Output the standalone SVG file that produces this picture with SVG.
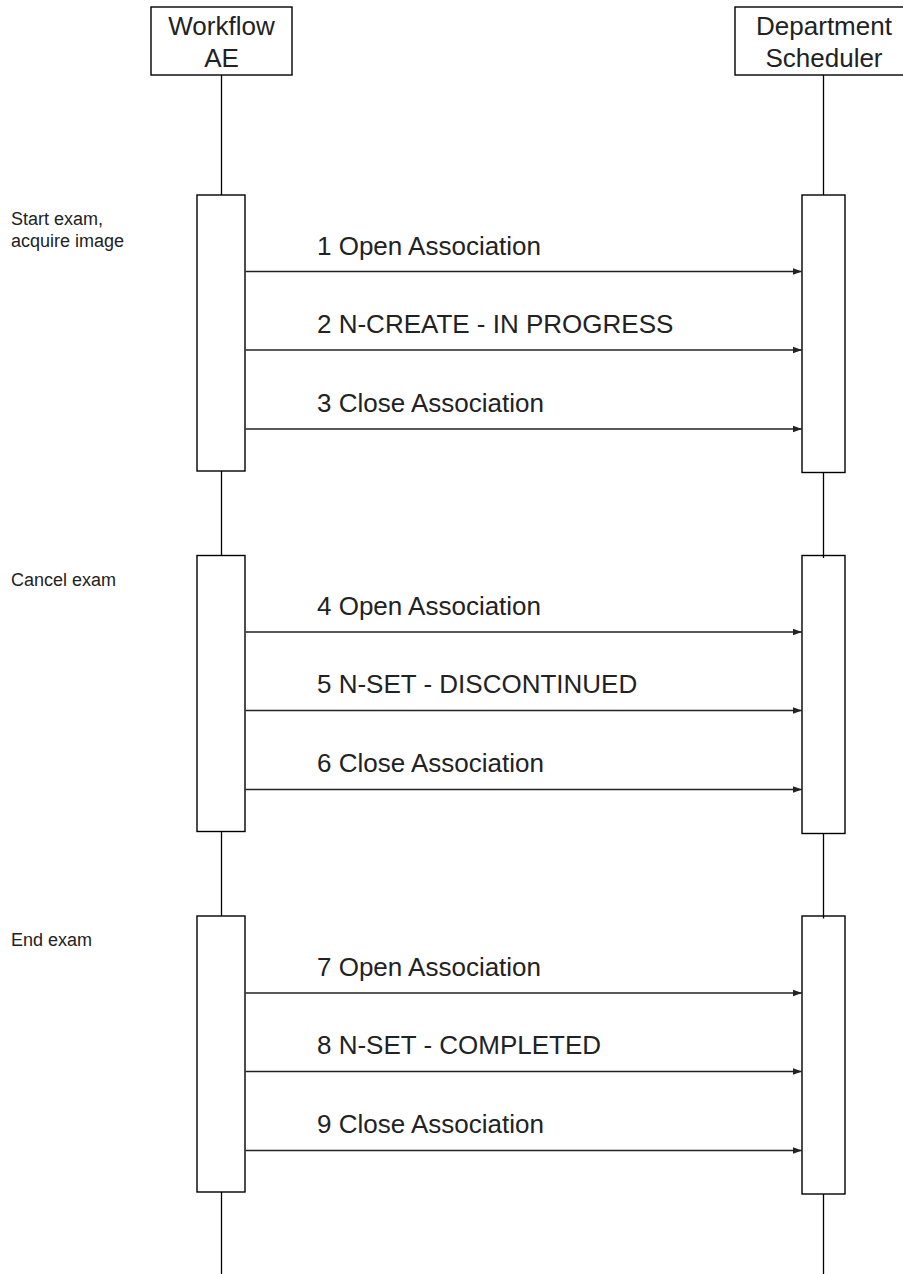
<svg xmlns="http://www.w3.org/2000/svg" width="903" height="1274" viewBox="0 0 903 1274">
<style>
.box{fill:#fff;stroke:#000;stroke-width:1.4}
.life{stroke:#000;stroke-width:1.3;fill:none}
.msg{stroke:#222;stroke-width:1.4;fill:none}
.t{font-family:"Liberation Sans",Arial,sans-serif;fill:#222}
.h{font-size:26px;text-anchor:middle}
.m{font-size:26px}
.n{font-size:18px}
</style>
<defs>
<marker id="arr" markerUnits="userSpaceOnUse" markerWidth="10" markerHeight="8" refX="9" refY="4" orient="auto">
<path d="M0,0.8 L9,4 L0,7.2 Z" fill="#222"/>
</marker>
</defs>
<rect width="903" height="1274" fill="#fff"/>
<g id="lifelines">
<line class="life" x1="221.5" y1="75" x2="221.5" y2="1274"/>
<line class="life" x1="823.5" y1="75" x2="823.5" y2="1274"/>
</g>
<g id="workflow-ae">
<rect class="box" x="151" y="7" width="141" height="68"/>
<text class="t h" x="221.5" y="35">Workflow</text>
<text class="t h" x="221.5" y="67">AE</text>
</g>
<g id="department-scheduler">
<rect class="box" x="735" y="7" width="178" height="68"/>
<text class="t h" x="824" y="35">Department</text>
<text class="t h" x="824" y="66.5">Scheduler</text>
</g>
<g id="activation-wf-1"><rect class="box" x="197" y="195" width="48" height="276"/></g>
<g id="activation-ds-1"><rect class="box" x="802" y="195" width="43" height="277.5"/></g>
<g id="activation-wf-2"><rect class="box" x="197" y="555.5" width="48" height="276"/></g>
<g id="activation-ds-2"><rect class="box" x="802" y="555.5" width="43" height="278"/></g>
<g id="activation-wf-3"><rect class="box" x="197" y="916" width="48" height="276"/></g>
<g id="activation-ds-3"><rect class="box" x="802" y="916" width="43" height="278"/></g>
<g id="lifeline-overlap">
<line class="life" x1="823.5" y1="555" x2="823.5" y2="558"/>
<line class="life" x1="823.5" y1="915.5" x2="823.5" y2="918.5"/>
</g>
<g id="phase-labels">
<text class="t n" x="11" y="225">Start exam,</text>
<text class="t n" x="11" y="247">acquire image</text>
<text class="t n" x="11" y="585.5">Cancel exam</text>
<text class="t n" x="11" y="946">End exam</text>
</g>
<g id="connectors">
<line class="msg" x1="245.7" y1="271.5" x2="802" y2="271.5" marker-end="url(#arr)"/>
<line class="msg" x1="245.7" y1="350" x2="802" y2="350" marker-end="url(#arr)"/>
<line class="msg" x1="245.7" y1="429" x2="802" y2="429" marker-end="url(#arr)"/>
<line class="msg" x1="245.7" y1="632" x2="802" y2="632" marker-end="url(#arr)"/>
<line class="msg" x1="245.7" y1="710.5" x2="802" y2="710.5" marker-end="url(#arr)"/>
<line class="msg" x1="245.7" y1="789.5" x2="802" y2="789.5" marker-end="url(#arr)"/>
<line class="msg" x1="245.7" y1="993" x2="802" y2="993" marker-end="url(#arr)"/>
<line class="msg" x1="245.7" y1="1071.5" x2="802" y2="1071.5" marker-end="url(#arr)"/>
<line class="msg" x1="245.7" y1="1150.5" x2="802" y2="1150.5" marker-end="url(#arr)"/>
</g>
<g id="message-labels">
<text class="t m" x="317" y="255">1 Open Association</text>
<text class="t m" x="317" y="332.5">2 N-CREATE - IN PROGRESS</text>
<text class="t m" x="317" y="411.5">3 Close Association</text>
<text class="t m" x="317" y="615">4 Open Association</text>
<text class="t m" x="317" y="693">5 N-SET - DISCONTINUED</text>
<text class="t m" x="317" y="772">6 Close Association</text>
<text class="t m" x="317" y="976">7 Open Association</text>
<text class="t m" x="317" y="1054">8 N-SET - COMPLETED</text>
<text class="t m" x="317" y="1133">9 Close Association</text>
</g>
</svg>
